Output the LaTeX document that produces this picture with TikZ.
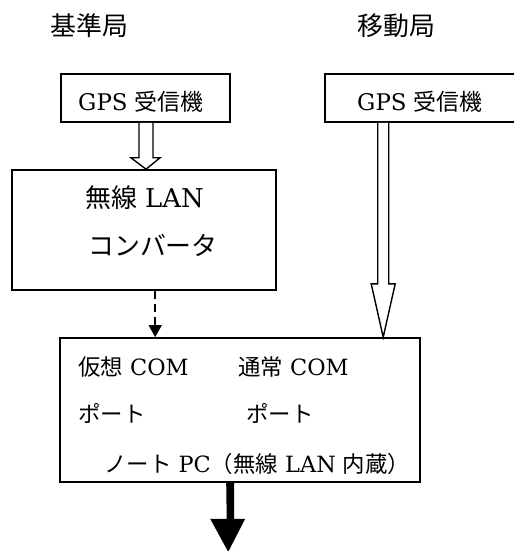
\documentclass[tikz,border=0pt]{standalone}
\usepackage{fontspec}
\setmainfont{DejaVu Serif}
\newfontfamily\jp{Noto Sans CJK JP}
\usetikzlibrary{calc,arrows.meta}
\begin{document}
\begin{tikzpicture}[x=1bp,y=-1bp,
  box/.style={draw,line width=1.6bp,inner sep=0pt,rectangle},
  lbl/.style={anchor=base west,inner sep=0pt},
  hollow/.style={draw,line width=1.4bp,fill=white,line join=miter},
  big/.style={font=\fontsize{26}{26}\selectfont},
  mid/.style={font=\fontsize{23}{23}\selectfont},
  small/.style={font=\fontsize{22.5}{22.5}\selectfont},
]
\useasboundingbox (0,0) rectangle (514,551);
\fill[white] (0,0) rectangle (514,551);

% station headings
\node[lbl,big] (hdrL) at (50,36) {\jp 基準局};
\node[lbl,big] (hdrR) at (357,36) {\jp 移動局};

% boxes
\node[box,minimum width=169bp,minimum height=48bp] (gpsL) at (145.5,98) {};
\node[box,minimum width=195bp,minimum height=48bp] (gpsR) at (422.5,98) {};
\node[box,minimum width=264bp,minimum height=120bp] (conv) at (144,230) {};
\node[box,minimum width=360bp,minimum height=144bp] (pc) at (240,410) {};

% box texts
\node[lbl,mid] (tGpsL) at (78,111) {GPS {\jp 受信機}};
\node[lbl,mid] (tGpsR) at (357,111) {GPS {\jp 受信機}};
\node[lbl,big] (tConv1) at (85,208) {{\jp 無線} LAN};
\node[lbl,big] (tConv2) at (88,255) {\jp コンバータ};
\node[lbl,small] (tVcom) at (78,375) {{\jp 仮想} COM};
\node[lbl,small] (tNcom) at (238,375) {{\jp 通常} COM};
\node[lbl,small] (tPort1) at (78,422) {\jp ポート};
\node[lbl,small] (tPort2) at (246,422) {\jp ポート};
\node[lbl,small] (tPc) at (104,472) {{\jp ノート} PC{\jp （無線} LAN {\jp 内蔵）}};

% hollow arrow: GPS receiver -> converter
\coordinate (aL) at ($(gpsL.south)+(0.5,0)$);
\draw[hollow] ($(aL)+(-7,0)$) -- ($(aL)+(-7,35)$) -- ($(aL)+(-15,35)$)
  -- (aL |- conv.north) -- ($(aL)+(14,35)$) -- ($(aL)+(7,35)$)
  -- ($(aL)+(7,0)$);

% hollow arrow: rover GPS receiver -> notebook PC
\coordinate (aR) at ($(gpsR.south west)+(59,0)$);
\draw[hollow] ($(aR)+(-5.5,0)$) -- ($(aR)+(-5.5,161)$) -- ($(aR)+(-12,161)$)
  -- (aR |- pc.north) -- ($(aR)+(12,161)$) -- ($(aR)+(5.5,161)$)
  -- ($(aR)+(5.5,0)$);

% dashed wireless link: converter -> virtual COM port
\coordinate (dL) at ($(conv.south west)+(144,0)$);
\draw[line width=1.5bp,dash pattern=on 8bp off 5bp,
  -{Triangle[length=12bp,width=13bp]}] (dL) -- (dL |- pc.north);

% solid output arrow from the PC
\coordinate (oA) at ($(pc.south west)+(171,0)$);
\coordinate (oB) at ($(oA)+(-2,69)$);
\fill ($(oA)+(-4,0)$) -- ($(oA)+(-3.5,36)$) -- ($(oA)+(-20,36)$)
  -- (oB) -- ($(oA)+(15,36)$) -- ($(oA)+(4,36)$) -- ($(oA)+(4,0)$) -- cycle;
\end{tikzpicture}
\end{document}
